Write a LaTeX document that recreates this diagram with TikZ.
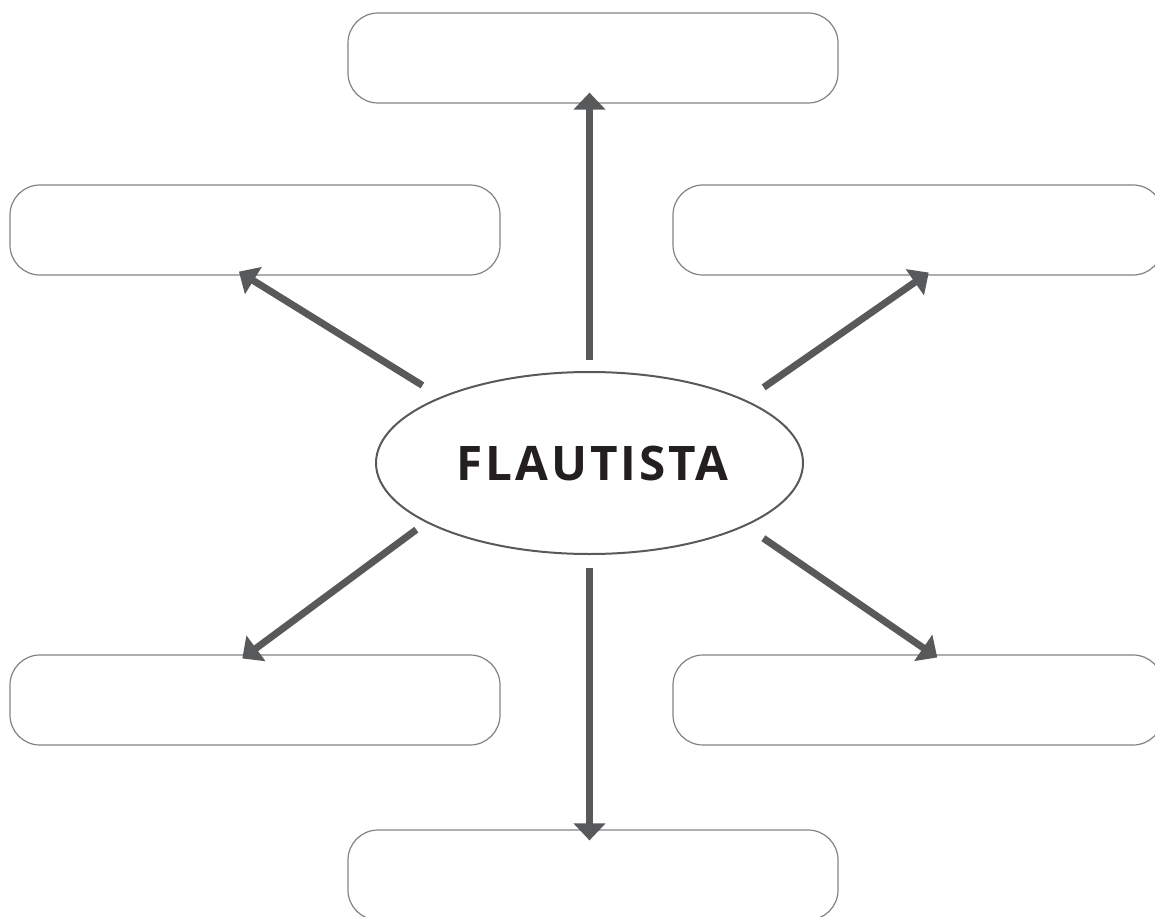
\documentclass[tikz,border=0pt]{standalone}
\usepackage{fontspec}
\setmainfont{Open Sans}
\newfontfamily\flautfont[LetterSpace=6]{Open Sans}
\usetikzlibrary{shapes.geometric,arrows.meta}
\definecolor{arrgray}{HTML}{58595B}
\definecolor{boxgray}{HTML}{808285}
\definecolor{ink}{HTML}{231F20}
\tikzset{
slot/.style={draw=boxgray,line width=1.2pt,rounded corners=30pt,
  minimum width=490pt,minimum height=90pt,inner sep=0pt},
arr/.style={draw=arrgray,line width=7pt,-{Triangle[length=17pt,width=31pt]}}
}

\begin{document}
\begin{tikzpicture}[x=1pt,y=-1pt]
\useasboundingbox (0,0) rectangle (1155,917);

\node[slot] (top) at (593,58) {};
\node[slot] (ul) at (255,230) {};
\node[slot] (ur) at (918,230) {};
\node[slot] (ll) at (255,700) {};
\node[slot] (lr) at (918,700) {};
\node[slot] (bot) at (593,875) {};

\node[ellipse,draw=arrgray,line width=2pt,minimum width=427pt,minimum height=182pt,
  inner sep=0pt,text=ink,font=\flautfont\fontsize{47.6}{50}\selectfont\bfseries] (flaut) at (589.5,463) {\kern6pt FLAUTISTA};

\draw[arr,shorten <=11pt,shorten >=-11pt] (flaut.north) -- (flaut.north |- top.south);
\draw[arr,shorten <=13pt,shorten >=-11pt] (flaut.south) -- (flaut.south |- bot.north);
\draw[arr,shorten <=21.5pt,shorten >=-7.5pt] (flaut.156) -- (ul.-102);
\draw[arr,shorten <=22pt,shorten >=-5.3pt] (flaut.22.5) -- (ur.-82.9);
\draw[arr,shorten <=12pt,shorten >=-6.8pt] (flaut.200.4) -- (ll.99.5);
\draw[arr,shorten <=21.5pt,shorten >=-5.4pt] (flaut.-22.9) -- (lr.72.1);
\end{tikzpicture}
\end{document}
